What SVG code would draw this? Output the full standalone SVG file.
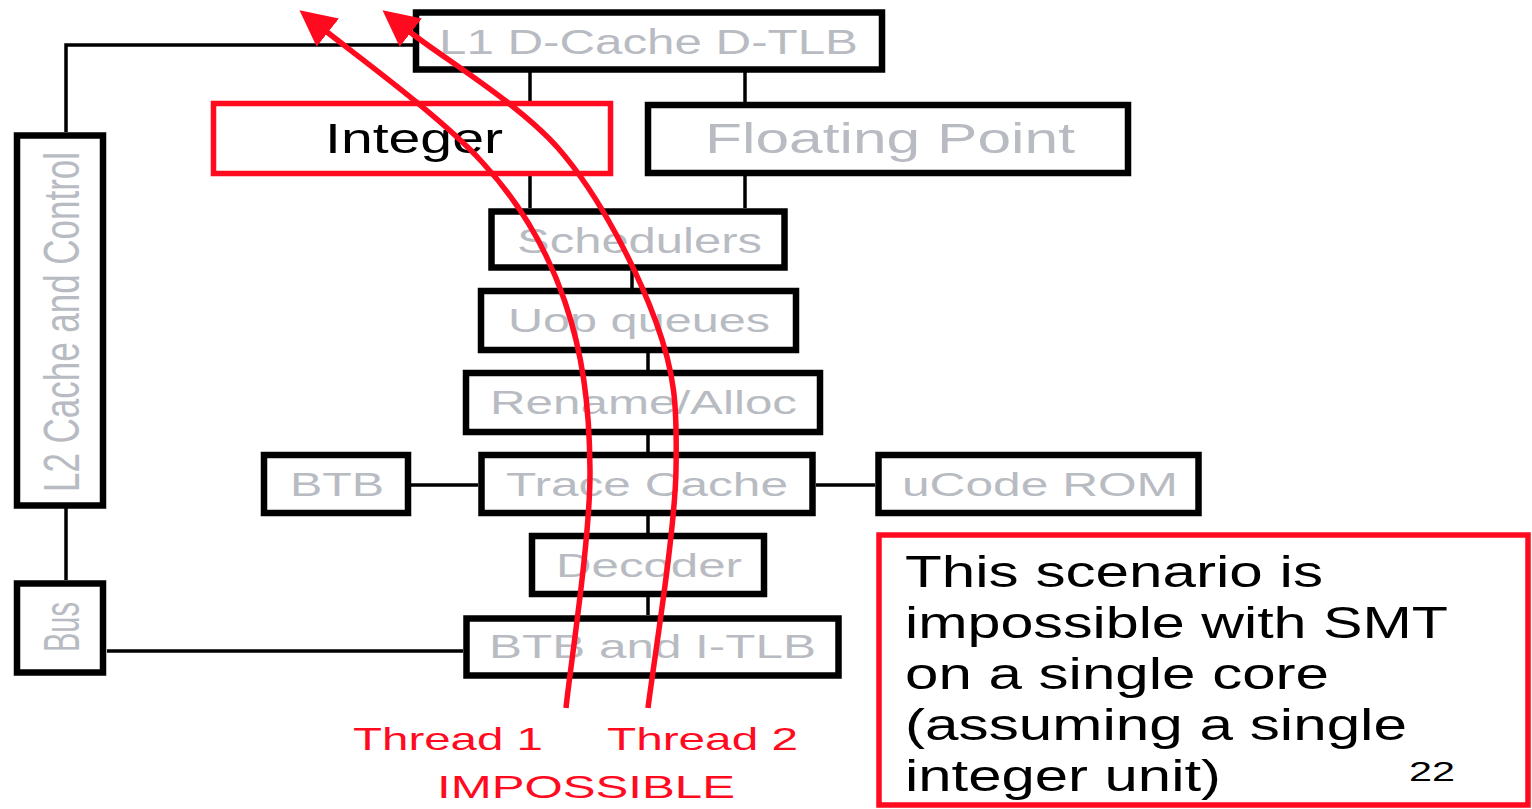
<svg xmlns="http://www.w3.org/2000/svg" width="1532" height="809" viewBox="0 0 1532 809">
<style>
.box{fill:#fff;stroke:#000;stroke-width:6.5}
.rbox{fill:#fff;stroke:#ff0a1e;stroke-width:5.5}
.lbl{font-family:"Liberation Sans",Arial,sans-serif;fill:#b8bcc2}
.blk{font-family:"Liberation Sans",Arial,sans-serif;fill:#000}
.red{font-family:"Liberation Sans",Arial,sans-serif;fill:#ff0a1e}
.con{fill:none;stroke:#000;stroke-width:3.5}
.thr{fill:none;stroke:#ff0a1e;stroke-width:5.5}
</style>
<defs>
<marker id="ah" markerUnits="userSpaceOnUse" viewBox="0 0 36 36" markerWidth="36" markerHeight="36" refX="1" refY="18" orient="auto">
<path d="M0,0 L36,18 L0,36 z" fill="#ff0a1e"/>
</marker>
</defs>
<rect width="1532" height="809" fill="#fff"/>
<g id="connectors">
<path class="con" d="M66,132 V45 H413"/>
<path class="con" d="M66,508 V580"/>
<path class="con" d="M107,651 H463"/>
<path class="con" d="M530,72 V101"/>
<path class="con" d="M745,72 V102"/>
<path class="con" d="M530,176 V208"/>
<path class="con" d="M745,176 V208"/>
<path class="con" d="M632,271 V288"/>
<path class="con" d="M648,353 V370"/>
<path class="con" d="M648,435 V452"/>
<path class="con" d="M648,516 V533"/>
<path class="con" d="M648,597 V615"/>
<path class="con" d="M411,485 H478"/>
<path class="con" d="M816,485 H875"/>
</g>
<g id="n-l1">
<rect class="box" x="416" y="12.5" width="466" height="57"/>
<text class="lbl" x="439" y="54" font-size="35" textLength="419" lengthAdjust="spacingAndGlyphs">L1 D-Cache D-TLB</text>
</g>
<g id="n-integer">
<rect class="rbox" x="213.5" y="103.5" width="397" height="70"/>
<text class="blk" x="325" y="153" font-size="42" textLength="178" lengthAdjust="spacingAndGlyphs">Integer</text>
</g>
<g id="n-fp">
<rect class="box" x="648" y="105" width="480" height="68"/>
<text class="lbl" x="705" y="153" font-size="42" textLength="370" lengthAdjust="spacingAndGlyphs">Floating Point</text>
</g>
<g id="n-sched">
<rect class="box" x="491.5" y="211.5" width="293" height="56"/>
<text class="lbl" x="517" y="253" font-size="35" textLength="245" lengthAdjust="spacingAndGlyphs">Schedulers</text>
</g>
<g id="n-uop">
<rect class="box" x="481" y="291" width="315" height="59"/>
<text class="lbl" x="508" y="332" font-size="34" textLength="262" lengthAdjust="spacingAndGlyphs">Uop queues</text>
</g>
<g id="n-rename">
<rect class="box" x="466" y="373" width="354" height="59"/>
<text class="lbl" x="490" y="414" font-size="34" textLength="307" lengthAdjust="spacingAndGlyphs">Rename/Alloc</text>
</g>
<g id="n-btb">
<rect class="box" x="264" y="455" width="144" height="58"/>
<text class="lbl" x="290" y="496" font-size="34" textLength="94" lengthAdjust="spacingAndGlyphs">BTB</text>
</g>
<g id="n-trace">
<rect class="box" x="481.5" y="455" width="331" height="58"/>
<text class="lbl" x="506" y="496" font-size="34" textLength="282" lengthAdjust="spacingAndGlyphs">Trace Cache</text>
</g>
<g id="n-ucode">
<rect class="box" x="878.5" y="455" width="320" height="58"/>
<text class="lbl" x="902" y="496" font-size="34" textLength="276" lengthAdjust="spacingAndGlyphs">uCode ROM</text>
</g>
<g id="n-decoder">
<rect class="box" x="532" y="536" width="232" height="58"/>
<text class="lbl" x="556" y="577" font-size="34" textLength="186" lengthAdjust="spacingAndGlyphs">Decoder</text>
</g>
<g id="n-btbitlb">
<rect class="box" x="466.5" y="618.5" width="372" height="57"/>
<text class="lbl" x="489" y="658" font-size="34" textLength="327" lengthAdjust="spacingAndGlyphs">BTB and I-TLB</text>
</g>
<g id="n-l2">
<rect class="box" x="17" y="135.5" width="86" height="370"/>
<text class="lbl" transform="translate(79,322) rotate(-90)" x="0" y="0" font-size="50" text-anchor="middle" textLength="340" lengthAdjust="spacingAndGlyphs">L2 Cache and Control</text>
</g>
<g id="n-bus">
<rect class="box" x="17" y="583.5" width="86" height="89"/>
<text class="lbl" transform="translate(79,627) rotate(-90)" x="0" y="0" font-size="50" text-anchor="middle" textLength="50" lengthAdjust="spacingAndGlyphs">Bus</text>
</g>
<g id="threads">
<path class="thr" marker-end="url(#ah)" d="M566,708 C570,668 590.5,538 590,470 C589.5,402 582,352 565,302 C548,252 522,205 482,162 C442,118 360,58 327,32"/>
<path class="thr" marker-end="url(#ah)" d="M648,708 C652.7,668.3 674.8,534.7 676,470 C677.2,405.3 675.2,374.2 656,322 C637,270 600,196 558,148 C518,103 443,58 410,32"/>
</g>
<g id="labels">
<text class="red" x="353" y="750" font-size="32" textLength="190" lengthAdjust="spacingAndGlyphs">Thread 1</text>
<text class="red" x="607" y="750" font-size="32" textLength="191" lengthAdjust="spacingAndGlyphs">Thread 2</text>
<text class="red" x="437" y="798" font-size="32" textLength="298" lengthAdjust="spacingAndGlyphs">IMPOSSIBLE</text>
</g>
<g id="n-note">
<rect class="rbox" x="879" y="535" width="649" height="270" stroke-width="6"/>
<text class="blk" font-size="44" x="905" y="587" textLength="418" lengthAdjust="spacingAndGlyphs">This scenario is</text>
<text class="blk" font-size="44" x="905" y="638" textLength="543" lengthAdjust="spacingAndGlyphs">impossible with SMT</text>
<text class="blk" font-size="44" x="905" y="689" textLength="424" lengthAdjust="spacingAndGlyphs">on a single core</text>
<text class="blk" font-size="44" x="905" y="740" textLength="502" lengthAdjust="spacingAndGlyphs">(assuming a single</text>
<text class="blk" font-size="44" x="905" y="791" textLength="316" lengthAdjust="spacingAndGlyphs">integer unit)</text>
<text class="blk" font-size="28" x="1409" y="781" textLength="46" lengthAdjust="spacingAndGlyphs">22</text>
</g>
</svg>
